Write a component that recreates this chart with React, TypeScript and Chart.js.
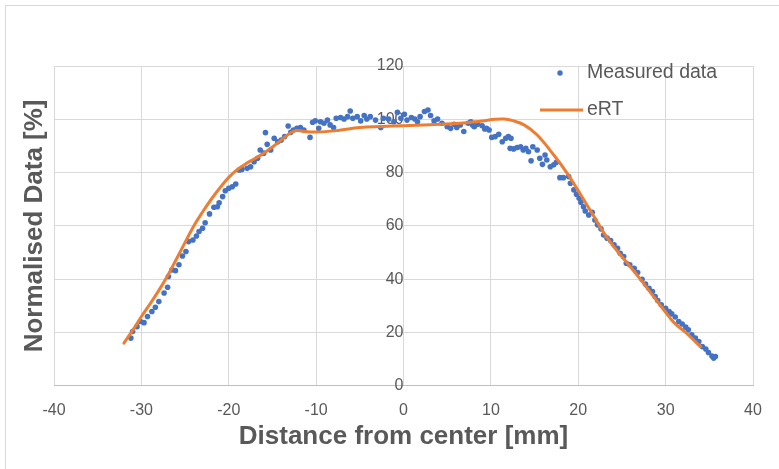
import React, { useEffect, useRef } from "react";
import { Chart, registerables } from "chart.js";

Chart.register(...registerables);

// Measured data (distance in mm, normalised %)
const measuredX = [
  -31.2, -31.0, -30.5, -30.1, -29.7, -29.3, -28.8, -28.4, -28.0, -27.4,
  -27.0, -26.9, -26.5, -26.1, -25.7, -25.3, -24.9, -24.6, -24.1, -23.7,
  -23.4, -23.0, -22.7, -22.2, -21.7, -21.3, -21.1, -20.7, -20.4, -20.0,
  -19.6, -19.2, -18.8, -18.5, -17.9, -17.5, -17.1, -16.7, -16.4, -16.0,
  -15.8, -15.6, -15.2, -14.8, -14.4, -14.0, -13.6, -13.2, -12.9, -12.6,
  -12.2, -11.8, -11.4, -10.7, -10.4, -10.1, -9.7, -9.5, -9.1, -8.7,
  -8.4, -8.0, -7.7, -7.2, -6.8, -6.4, -6.1, -5.8, -5.3, -4.9,
  -4.5, -4.2, -3.8, -3.2, -2.6, -2.3, -1.7, -1.1, -0.7, -0.3,
  0.1, 0.4, 0.9, 1.3, 1.6, 1.9, 2.4, 2.8, 3.1, 3.5,
  3.9, 4.4, 5.0, 5.4, 5.8, 6.1, 6.5, 6.9, 7.4, 7.7,
  7.9, 8.1, 8.5, 9.0, 9.3, 9.5, 9.8, 10.1, 10.5, 10.9,
  11.3, 11.7, 12.0, 12.2, 12.3, 12.6, 13.0, 13.4, 13.7, 14.0,
  14.3, 14.6, 14.8, 15.3, 15.6, 15.9, 16.2, 16.4, 16.8, 17.2,
  17.5, 17.9, 18.3, 18.9, 19.1, 19.5, 19.8, 20.1, 20.3, 20.6,
  20.8, 21.2, 21.6, 21.9, 22.2, 22.6, 22.9, 23.3, 23.7, 24.1,
  24.5, 24.8, 25.2, 25.5, 25.9, 26.4, 26.8, 27.3, 27.7, 28.1,
  28.5, 28.8, 29.1, 29.5, 30.0, 30.4, 30.7, 31.1, 31.5, 31.9,
  32.3, 32.6, 33.0, 33.4, 33.8, 34.2, 34.6, 34.9, 35.3, 35.5,
  35.7,
];
const measuredY = [
  17.9, 20.4, 22.2, 24.1, 23.7, 26.0, 27.9, 29.5, 31.6, 34.8,
  37.0, 41.0, 43.5, 43.2, 45.4, 48.7, 50.4, 54.1, 54.7, 56.2,
  57.9, 59.1, 61.2, 64.5, 67.0, 67.2, 68.7, 71.0, 73.2, 74.1,
  74.7, 75.7, 81.0, 81.2, 81.6, 82.2, 84.1, 85.4, 88.5, 87.3,
  95.0, 90.6, 88.5, 92.9, 91.6, 92.2, 93.5, 97.5, 95.1, 96.0,
  96.6, 96.9, 96.0, 93.2, 98.9, 99.4, 96.6, 99.1, 98.5, 99.7,
  97.9, 96.9, 100.4, 100.7, 100.1, 101.0, 103.1, 100.4, 101.0, 99.4,
  101.4, 100.1, 101.0, 99.7, 96.9, 100.4, 100.1, 99.1, 102.6, 100.4,
  101.9, 99.7, 100.7, 100.1, 99.1, 101.0, 102.9, 103.5, 101.4, 99.4,
  100.1, 98.5, 97.2, 96.6, 98.1, 96.9, 97.9, 95.4, 98.5, 99.1,
  97.9, 97.2, 98.1, 97.6, 96.4, 96.6, 96.0, 93.2, 93.5, 94.4,
  91.6, 92.9, 93.5, 89.1, 92.9, 88.9, 89.4, 89.7, 88.5, 89.1,
  87.8, 84.4, 89.7, 88.5, 85.4, 83.1, 86.6, 84.7, 82.2, 82.9,
  83.9, 78.1, 78.1, 78.5, 76.0, 73.5, 71.9, 70.4, 68.9, 67.2,
  65.6, 64.1, 65.1, 62.2, 60.4, 58.9, 56.6, 55.4, 54.5, 52.9,
  51.6, 49.7, 48.5, 46.0, 45.4, 44.1, 42.5, 40.0, 38.2, 36.6,
  35.4, 33.5, 32.0, 30.4, 29.1, 27.9, 27.0, 25.8, 24.1, 23.2,
  22.0, 21.0, 19.1, 17.9, 16.6, 14.7, 13.8, 12.5, 11.2, 10.4,
  11.0,
];

// eRT model curve
const ertX = [
  -32.0, -31.0, -30.0, -29.0, -28.0, -27.0, -26.0, -25.0, -24.0, -23.0,
  -22.0, -21.0, -20.0, -19.0, -18.0, -17.0, -16.0, -15.0, -14.0, -13.0,
  -12.3, -11.5, -10.0, -7.5, -5.0, -2.5, 0.0, 3.0, 6.5, 9.0,
  10.5, 11.5, 12.5, 13.8, 15.3, 17.2, 18.7, 20.3, 21.8, 23.0,
  24.5, 26.0, 27.1, 28.5, 30.0, 31.0, 32.3, 33.2, 34.0,
];
const ertY = [
  16.0, 20.8, 26.0, 30.8, 35.8, 41.3, 47.5, 53.8, 60.0, 65.2,
  70.0, 74.3, 78.2, 81.2, 83.4, 85.3, 87.3, 89.6, 92.2, 94.8,
  95.8, 95.5, 95.2, 95.8, 96.9, 97.3, 97.6, 98.0, 98.5, 99.4,
  100.0, 100.1, 99.5, 97.9, 94.1, 86.6, 79.9, 71.6, 63.5, 57.0,
  50.4, 44.5, 40.0, 34.0, 27.6, 23.6, 20.0, 17.2, 14.7,
];

const xMin = -40;
const xMax = 40;
const xStep = 10;
const yMin = 0;
const yMax = 120;
const yStep = 20;

const seriesNames = ["Measured data", "eRT"];
const xTitle = "Distance from center [mm]";
const yTitle = "Normalised Data [%]";

const BLUE = "#4472C4";
const ORANGE = "#ED7D31";
const GRID = "#d9d9d9";
const TEXT = "#595959";
const FONT = "'Liberation Sans', Arial, sans-serif";

export default function App() {
  const ref = useRef<HTMLCanvasElement | null>(null);

  useEffect(() => {
    document.body.style.margin = "0";
    const canvas = ref.current;
    if (!canvas) return;

    const decorations = {
      id: "decorations",
      afterDraw(chart: any) {
        const ctx = chart.ctx as CanvasRenderingContext2D;
        const a = chart.chartArea;
        ctx.save();
        // axis titles
        ctx.fillStyle = TEXT;
        ctx.font = `bold 26px ${FONT}`;
        ctx.textAlign = "center";
        ctx.textBaseline = "middle";
        ctx.fillText(xTitle, (a.left + a.right) / 2, a.bottom + 51);
        ctx.save();
        ctx.translate(a.left - 19, (a.top + a.bottom) / 2);
        ctx.rotate(-Math.PI / 2);
        ctx.fillText(yTitle, 0, 0);
        ctx.restore();

        // legend inside plot area
        ctx.font = `19.5px ${FONT}`;
        ctx.textAlign = "left";
        ctx.textBaseline = "middle";
        const textX = a.right - 166;
        const row1 = a.top + 7;
        const row2 = a.top + 44;
        ctx.fillStyle = BLUE;
        ctx.beginPath();
        ctx.arc(a.right - 193, row1, 2.7, 0, Math.PI * 2);
        ctx.fill();
        ctx.fillStyle = TEXT;
        ctx.fillText(seriesNames[0], textX, row1);
        ctx.strokeStyle = ORANGE;
        ctx.lineWidth = 3;
        ctx.beginPath();
        ctx.moveTo(a.right - 213, row2);
        ctx.lineTo(a.right - 170, row2);
        ctx.stroke();
        ctx.fillText(seriesNames[1], textX, row2);
        ctx.restore();
      },
    };

    const chart = new Chart(canvas, {
      type: "scatter",
      data: {
        datasets: [
          {
            label: seriesNames[0],
            data: measuredX.map((x, i) => ({ x, y: measuredY[i] })),
            backgroundColor: BLUE,
            borderColor: BLUE,
            pointRadius: 2.8,
            pointBorderWidth: 0,
            pointHoverRadius: 2.8,
            showLine: false,
            order: 2,
          },
          {
            label: seriesNames[1],
            data: ertX.map((x, i) => ({ x, y: ertY[i] })),
            borderColor: ORANGE,
            backgroundColor: ORANGE,
            borderWidth: 3,
            borderCapStyle: "round",
            borderJoinStyle: "round",
            pointRadius: 0,
            showLine: true,
            tension: 0.4,
            order: 1,
          } as any,
        ],
      },
      options: {
        responsive: true,
        maintainAspectRatio: false,
        animation: false,
        layout: { padding: { left: 54, right: 26, top: 66, bottom: 34 } },
        plugins: {
          legend: { display: false },
          tooltip: { enabled: false },
        },
        scales: {
          x: {
            type: "linear",
            min: xMin,
            max: xMax,
            ticks: {
              stepSize: xStep,
              color: TEXT,
              font: { family: FONT, size: 16 },
              padding: 15,
            },
            grid: { color: GRID, lineWidth: 1, drawTicks: false },
            border: { color: "#bfbfbf", width: 1 },
          },
          y: {
            type: "linear",
            min: yMin,
            max: yMax,
            position: { x: 0 } as any,
            ticks: { display: false, stepSize: yStep },
            grid: { color: GRID, lineWidth: 1, drawTicks: false },
            border: { display: false },
          },
          y2: {
            type: "linear",
            axis: "y",
            min: yMin,
            max: yMax,
            position: { x: 0 } as any,
            z: 1,
            ticks: {
              stepSize: yStep,
              color: TEXT,
              font: { family: FONT, size: 16 },
              padding: 18,
            },
            grid: { display: false, drawTicks: false },
            border: { display: false },
          },
        } as any,
      },
      plugins: [decorations],
    });

    return () => chart.destroy();
  }, []);

  return (
    <div
      style={{
        position: "fixed",
        left: 0,
        top: 0,
        width: 779,
        height: 469,
        overflow: "hidden",
        background: "#ffffff",
      }}
    >
      <div
        style={{
          position: "absolute",
          left: 5,
          top: 5,
          width: 820,
          height: 520,
          border: "1px solid #d9d9d9",
          boxSizing: "border-box",
        }}
      />
      <canvas ref={ref} style={{ position: "absolute", left: 0, top: 0 }} />
    </div>
  );
}
